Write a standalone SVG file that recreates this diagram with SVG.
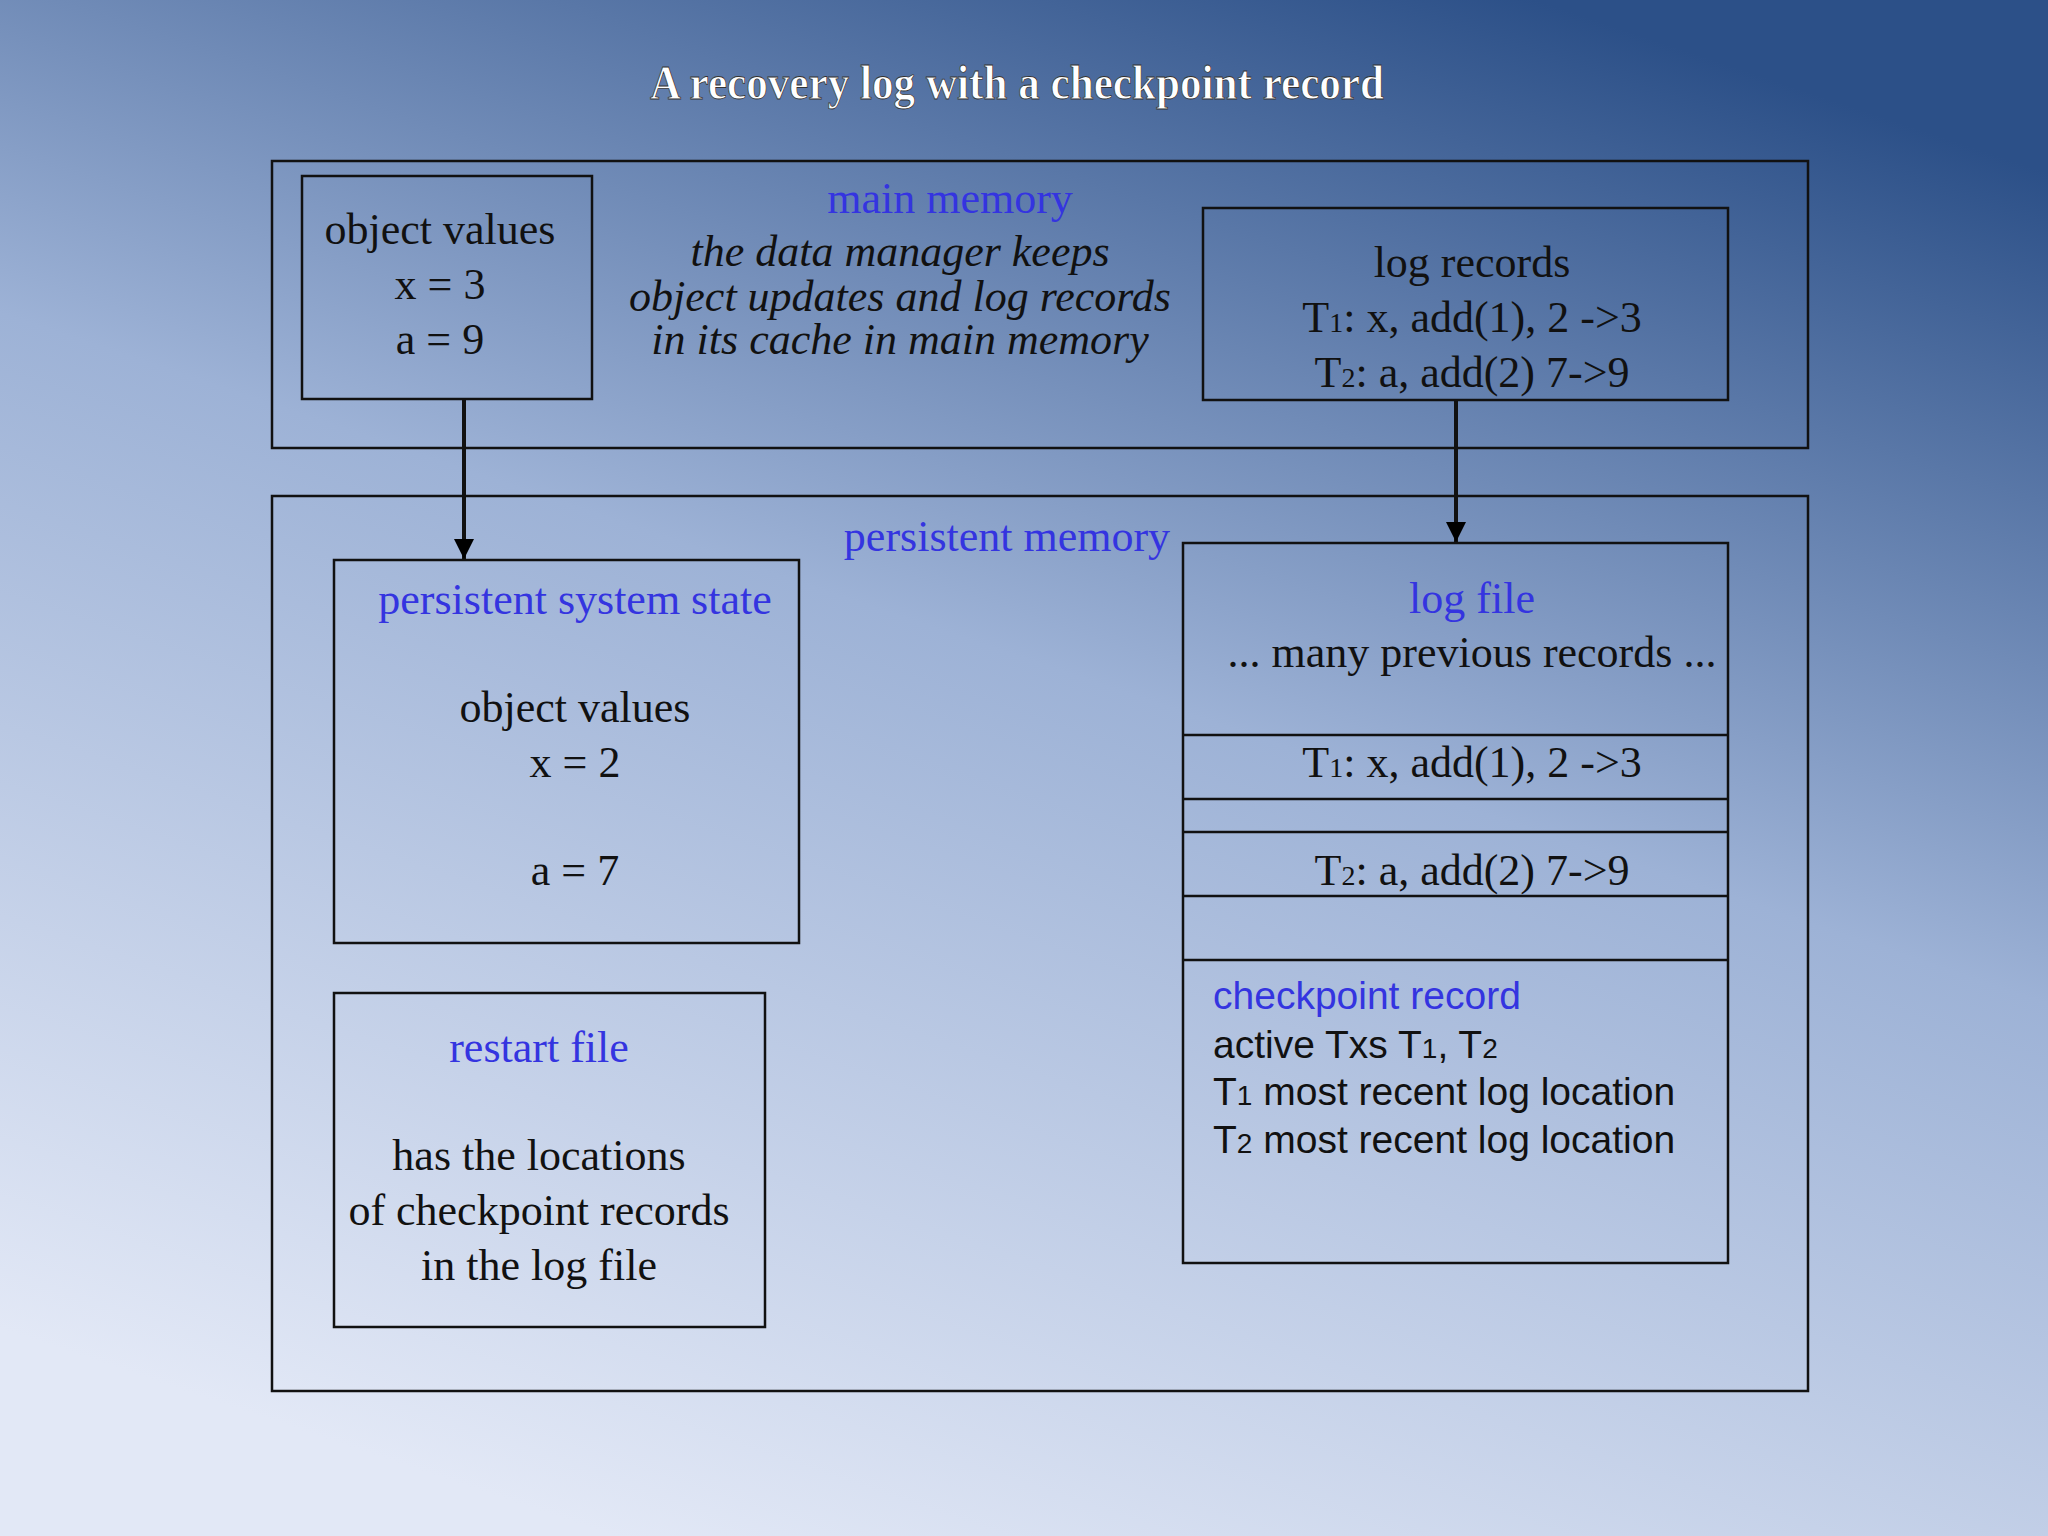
<svg xmlns="http://www.w3.org/2000/svg" width="2048" height="1536" viewBox="0 0 2048 1536">
<defs>
<linearGradient id="bg" x1="0.75" y1="0" x2="0.3" y2="1">
<stop offset="0" stop-color="#2c5088"/>
<stop offset="0.45" stop-color="#9db2d6"/>
<stop offset="1" stop-color="#e2e8f6"/>
</linearGradient>
<marker id="ah" viewBox="0 0 10 10" refX="10" refY="5" markerWidth="5" markerHeight="5" orient="auto"><path d="M0,0L10,5L0,10z" fill="#000"/></marker>
</defs>
<style>
.b{fill:none;stroke:#111;stroke-width:2.5}
.t{font-family:"Liberation Serif",serif;font-size:44px;fill:#111;text-anchor:middle}
.i{font-style:italic}
.bl{fill:#3434e0}
.s{font-family:"Liberation Sans",sans-serif;font-size:39px;fill:#111}
.sub{font-size:28px}
.c{stroke:#111;stroke-width:4;fill:none;marker-end:url(#ah)}
</style>
<rect width="2048" height="1536" fill="url(#bg)"/>
<text x="1017" y="99" font-family="Liberation Serif,serif" font-weight="bold" font-size="48" fill="#fff" text-anchor="middle" textLength="734" lengthAdjust="spacingAndGlyphs" stroke="#333" stroke-width="0.8">A recovery log with a checkpoint record</text>
<g id="main_memory"><rect class="b" x="272" y="161" width="1536" height="287"/>
<text class="t bl" x="950" y="213">main memory</text>
<text class="t i" x="900" y="266">the data manager keeps</text>
<text class="t i" x="900" y="311">object updates and log records</text>
<text class="t i" x="900" y="354">in its cache in main memory</text></g>
<g id="obj_values"><rect class="b" x="302" y="176" width="290" height="223"/>
<text class="t" x="440" y="244">object values</text>
<text class="t" x="440" y="299">x = 3</text>
<text class="t" x="440" y="354">a = 9</text></g>
<g id="log_records"><rect class="b" x="1203" y="208" width="525" height="192"/>
<text class="t" x="1472" y="277">log records</text>
<text class="t" x="1472" y="332">T<tspan class="sub">1</tspan>: x, add(1), 2 -&gt;3</text>
<text class="t" x="1472" y="387">T<tspan class="sub">2</tspan>: a, add(2) 7-&gt;9</text></g>
<g id="persistent_memory"><rect class="b" x="272" y="496" width="1536" height="895"/>
<text class="t bl" x="1007" y="551">persistent memory</text></g>
<g id="pss"><rect class="b" x="334" y="560" width="465" height="383"/>
<text class="t bl" x="575" y="614">persistent system state</text>
<text class="t" x="575" y="722">object values</text>
<text class="t" x="575" y="777">x = 2</text>
<text class="t" x="575" y="885">a = 7</text></g>
<g id="restart"><rect class="b" x="334" y="993" width="431" height="334"/>
<text class="t bl" x="539" y="1062">restart file</text>
<text class="t" x="539" y="1170">has the locations</text>
<text class="t" x="539" y="1225">of checkpoint records</text>
<text class="t" x="539" y="1280">in the log file</text></g>
<g id="log_file"><rect class="b" x="1183" y="543" width="545" height="720"/>
<path class="b" d="M1183,735H1728M1183,799H1728M1183,832H1728M1183,896H1728M1183,960H1728"/>
<text class="t bl" x="1472" y="613">log file</text>
<text class="t" x="1472" y="667">... many previous records ...</text>
<text class="t" x="1472" y="777">T<tspan class="sub">1</tspan>: x, add(1), 2 -&gt;3</text>
<text class="t" x="1472" y="885">T<tspan class="sub">2</tspan>: a, add(2) 7-&gt;9</text>
<text class="s" x="1213" y="1009" style="fill:#3434e0">checkpoint record</text>
<text class="s" x="1213" y="1058">active Txs T<tspan class="sub">1</tspan>, T<tspan class="sub">2</tspan></text>
<text class="s" x="1213" y="1105">T<tspan class="sub">1</tspan> most recent log location</text>
<text class="s" x="1213" y="1153">T<tspan class="sub">2</tspan> most recent log location</text></g>
<g id="connectors">
<path class="c" d="M464,400V559"/>
<path class="c" d="M1456,400V542"/>
</g>
</svg>
